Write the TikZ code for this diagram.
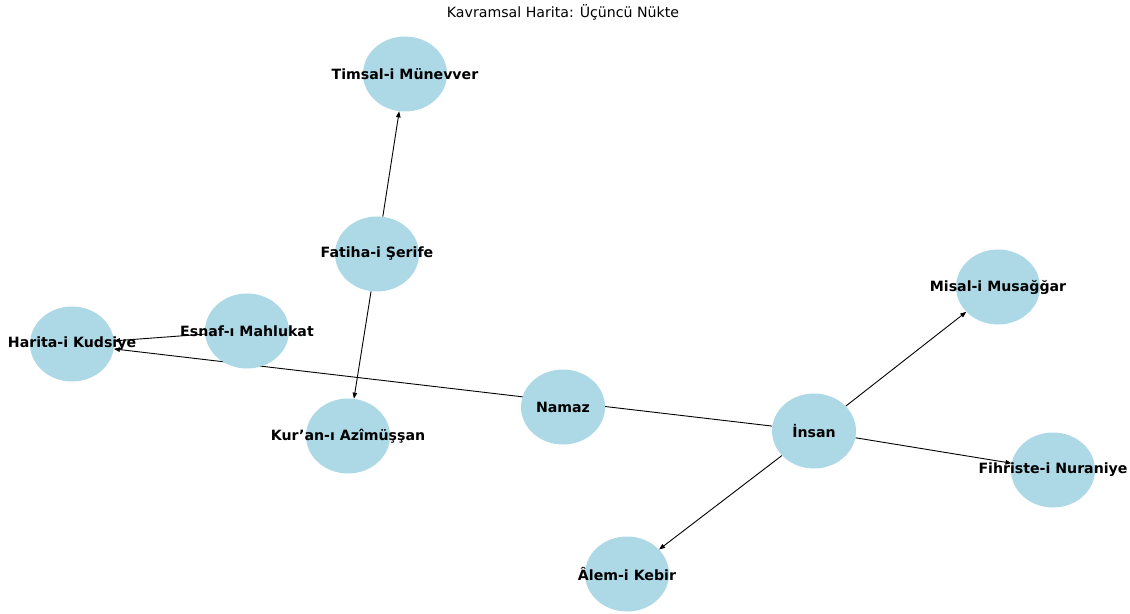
\documentclass[tikz,border=0pt]{standalone}
\usepackage{fontspec}
\setmainfont{DejaVu Sans}
\usetikzlibrary{shapes.geometric,arrows.meta,backgrounds}
\definecolor{nodeblue}{HTML}{ADD8E6}

\begin{document}
\begin{tikzpicture}[x=1bp, y=-1bp,
        main/.style = {ellipse, fill=nodeblue, minimum width=84bp, minimum height=75bp, inner sep=0pt},
        lbl/.style = {font=\fontsize{14.2}{16}\selectfont\bfseries, inner sep=0pt},
        link/.style = {-{Triangle[length=6bp,width=4.5bp]}, line width=0.9bp}]
        \useasboundingbox (0,0) rectangle (1130,614);

        \node[font=\fontsize{14.2}{16}\selectfont] (0) at (563,12) {Kavramsal Harita: Üçüncü Nükte};

        \node[main, label={[lbl]center:Timsal-i Münevver}] (1) at (405,74) {};
        \node[main, label={[lbl]center:Fatiha-i Şerife}] (2) at (377,254) {};
        \node[main, label={[lbl]center:Kur’an-ı Azîmüşşan}] (3) at (348,436) {};
        \node[main, label={[lbl]center:Esnaf-ı Mahlukat}] (4) at (247,331) {};
        \node[main, label={[lbl]center:Harita-i Kudsiye}] (5) at (72,344) {};
        \node[main, label={[lbl]center:Namaz}] (6) at (563,407) {};
        \node[main, label={[lbl]center:İnsan}] (7) at (814,431) {};
        \node[main, label={[lbl]center:Misal-i Musağğar}] (8) at (998,287) {};
        \node[main, label={[lbl]center:Fihriste-i Nuraniye}] (9) at (1053,470) {};
        \node[main, label={[lbl]center:Âlem-i Kebir}] (10) at (627,574) {};

        % edges stay behind the nodes
        \begin{scope}[on background layer]
            \draw[link] (2) -- (1);
            \draw[link] (2) -- (3);
            \draw[link] (4) -- (5);
            \draw[link] (7) -- (5);
            \draw[link] (7) -- (8);
            \draw[link] (7) -- (9);
            \draw[link] (7) -- (10);
        \end{scope}

    \end{tikzpicture}
\end{document}
